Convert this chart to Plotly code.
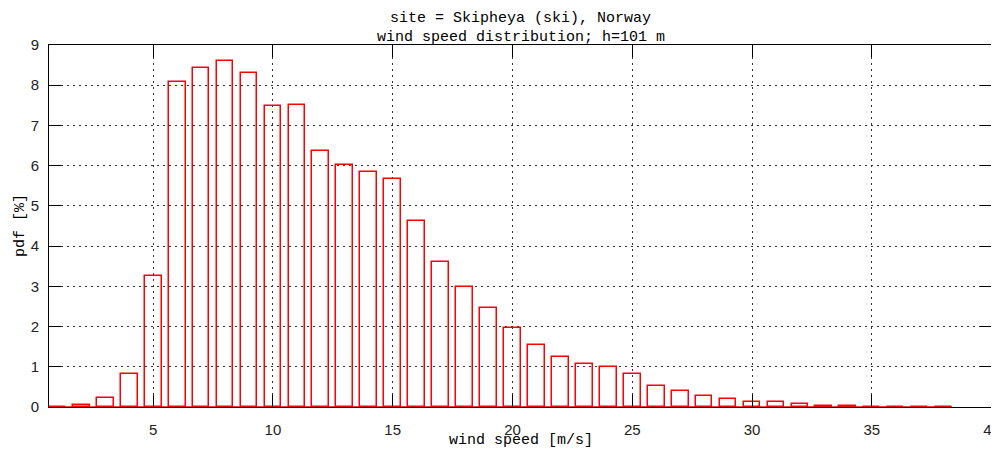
import plotly.graph_objects as go

# wind speed bins [m/s]
bins = list(range(1, 39))
# pdf [%]
pdf = [0.0, 0.04, 0.23, 0.83, 3.25, 8.07, 8.43, 8.59, 8.31, 7.48,
       7.52, 6.36, 6.01, 5.84, 5.68, 4.62, 3.61, 2.98, 2.46, 1.96,
       1.55, 1.24, 1.07, 1.00, 0.83, 0.51, 0.39, 0.27, 0.19, 0.12,
       0.12, 0.08, 0.035, 0.035, 0.0, 0.0, 0.0, 0.0]
x_ticks = [5, 10, 15, 20, 25, 30, 35, 40]
y_ticks = [0, 1, 2, 3, 4, 5, 6, 7, 8, 9]

title1 = "site = Skipheya (ski), Norway"
title2 = "wind speed distribution; h=101 m"
xlabel = "wind speed [m/s]"
ylabel = "pdf [%]"

BAR_W = 0.7
RED = "#ff0000"
MONO = "Liberation Mono, DejaVu Sans Mono, monospace"
SANS = "Liberation Sans, Arial, sans-serif"

fig = go.Figure()
fig.add_trace(go.Bar(
    x=bins, y=pdf, width=BAR_W,
    marker=dict(color="rgba(0,0,0,0)", line=dict(color=RED, width=1.5)),
    showlegend=False, hoverinfo="x+y",
))
# baseline of the boxes
fig.add_trace(go.Scatter(
    x=[bins[0] - BAR_W / 2, bins[-1] + BAR_W / 2], y=[0, 0],
    mode="lines", line=dict(color=RED, width=1.5),
    showlegend=False, hoverinfo="skip",
))

# page body has an 8px margin; figure sized/placed to compensate
OFF = 8
W, H = 999 - OFF, 450 - OFF
L, R, T, B = 49 - OFF, 7, 45 - OFF, 43
ph = H - T - B
pw = W - L - R

axis_common = dict(
    showline=True, linecolor="black", linewidth=1, mirror="ticks",
    ticks="inside", ticklen=12, tickcolor="black", tickwidth=1,
    showgrid=True, gridcolor="#333333", gridwidth=1, griddash="2px,4px",
    zeroline=False, automargin=False, ticklabeloverflow="allow",
    tickfont=dict(family=SANS, size=15, color="#222222"),
)

fig.update_layout(
    width=W, height=H,
    margin=dict(l=L, r=R, t=T, b=B, autoexpand=False),
    paper_bgcolor="white", plot_bgcolor="white",
    bargap=0,
    xaxis=dict(range=[bins[0] - BAR_W / 2, 40.02], tickvals=x_ticks,
               ticklabelstandoff=9, **axis_common),
    yaxis=dict(range=[0, 9], tickvals=y_ticks,
               ticklabelstandoff=6, **axis_common),
    annotations=[
        dict(text=title1, xref="paper", yref="paper", x=0.5,
             y=1 + (45 - 18.5) / ph, xanchor="center", yanchor="middle",
             showarrow=False, font=dict(family=MONO, size=15, color="black")),
        dict(text=title2, xref="paper", yref="paper", x=0.5,
             y=1 + (45 - 37) / ph, xanchor="center", yanchor="middle",
             showarrow=False, font=dict(family=MONO, size=15, color="black")),
        dict(text=xlabel, xref="paper", yref="paper", x=0.5,
             y=-(440 - 407) / ph, xanchor="center", yanchor="middle",
             showarrow=False, font=dict(family=MONO, size=15, color="black")),
        dict(text=ylabel, xref="paper", yref="paper", x=-(49 - 20) / pw,
             y=0.5, xanchor="center", yanchor="middle", textangle=-90,
             showarrow=False, font=dict(family=MONO, size=15, color="black")),
    ],
)

fig.write_html("out.html")
